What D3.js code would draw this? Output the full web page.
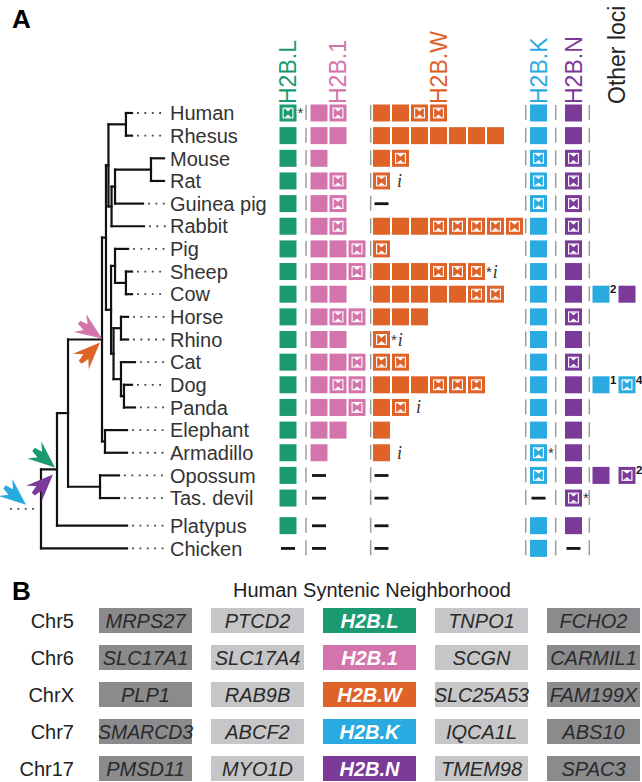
<!DOCTYPE html>
<html><head><meta charset="utf-8">
<script src="https://cdn.jsdelivr.net/npm/d3@7"></script>
<style>
body{margin:0;background:#fff}
svg{display:block;font-family:"Liberation Sans",Arial,Helvetica,sans-serif}
</style>
</head><body>
<svg id="c" width="642" height="782"></svg>
<script>
// ---------------- DATA ----------------
const species = ["Human","Rhesus","Mouse","Rat","Guinea pig","Rabbit","Pig","Sheep","Cow","Horse","Rhino","Cat","Dog","Panda","Elephant","Armadillo","Opossum","Tas. devil","Platypus","Chicken"];
const gapBefore = ["Platypus"];
// F = gene, P = pseudogene, - = absent
const families = ["H2B.L","H2B.1","H2B.W","H2B.K","H2B.N"];
const h2bL = ["P","F","F","F","F","F","F","F","F","F","F","F","F","F","F","F","F","F","F","-"];
const h2b1 = ["FP","FF","F","FP","FP","FP","FFP","FFP","FF","FPP","FF","FFP","FPP","FFP","FF","F","-","-","-","-"];
const h2bW = ["FFPP","FFFFFFF","FP","P","-","FFFPPPPP","P","FFFPPP","FFFFFPP","FFF","P","PP","FFFPPP","FP","F","F","-","-","-","-"];
const h2bK = ["F","F","P","P","P","F","F","F","F","F","F","F","F","F","F","P","P","-","F","F"];
const h2bN = ["F","F","P","P","P","P","P","F","F","P","F","P","F","F","F","F","F","P","F","-"];
const otherLoci = [
  {species:"Cow", items:[{family:"H2B.K", type:"F", sup:"2"},{family:"H2B.N", type:"F", sup:""}]},
  {species:"Dog", items:[{family:"H2B.K", type:"F", sup:"1"},{family:"H2B.K", type:"P", sup:"4"}]},
  {species:"Opossum", items:[{family:"H2B.N", type:"F", sup:""},{family:"H2B.N", type:"P", sup:"2"}]}
];
const notes = [
  {species:"Human", family:"H2B.L", text:"*"},
  {species:"Rat", family:"H2B.W", text:"i"},
  {species:"Sheep", family:"H2B.W", text:"*i"},
  {species:"Rhino", family:"H2B.W", text:"*i"},
  {species:"Panda", family:"H2B.W", text:"i"},
  {species:"Armadillo", family:"H2B.W", text:"i"},
  {species:"Armadillo", family:"H2B.K", text:"*"},
  {species:"Tas. devil", family:"H2B.N", text:"*"}
];
// tree: node, parent, depth (relative divergence units)
const treeNode   = ["Amniota","Mammalia","Chicken","Theria","Platypus","Placentalia","Marsupialia","Opossum","Tas. devil","Boreoeutheria","Atlantogenata","Elephant","Armadillo","Euarchontoglires","Laurasiatheria","Primates","Human","Rhesus","Glires","Rodentia","Muridae","Mouse","Rat","Guinea pig","Rabbit","Cetartiodactyla","Pig","Ruminantia","Sheep","Cow","Zooamata","Perissodactyla","Horse","Rhino","Carnivora","Cat","Caniformia","Dog","Panda"];
const treeParent = [null,"Amniota","Amniota","Mammalia","Mammalia","Theria","Theria","Marsupialia","Marsupialia","Placentalia","Placentalia","Atlantogenata","Atlantogenata","Boreoeutheria","Boreoeutheria","Euarchontoglires","Primates","Primates","Euarchontoglires","Glires","Rodentia","Muridae","Muridae","Rodentia","Glires","Laurasiatheria","Cetartiodactyla","Cetartiodactyla","Ruminantia","Ruminantia","Laurasiatheria","Zooamata","Perissodactyla","Perissodactyla","Zooamata","Carnivora","Carnivora","Caniformia","Caniformia"];
const treeDepth  = [0,12.9,69.4,21.8,69.4,49.2,47.6,62.9,62.9,52.4,51.6,69.4,69.4,54.4,56.5,68.5,73.4,73.4,56.9,59.7,88.7,99.2,99.2,82.3,83.1,59.7,70.2,68.5,73.4,73.4,58.5,64.5,70.2,70.2,64.5,75.8,66.9,73.4,75.8];
const arrowMarks = [
  {node:"Placentalia", family:"H2B.1"},
  {node:"Placentalia", family:"H2B.W"},
  {node:"Mammalia", family:"H2B.L"},
  {node:"Mammalia", family:"H2B.N"},
  {node:"Amniota", family:"H2B.K"}
];
// panel B
const chroms = ["Chr5","Chr6","ChrX","Chr7","Chr17"];
const leftFar = ["MRPS27","SLC17A1","PLP1","SMARCD3","PMSD11"];
const leftNear = ["PTCD2","SLC17A4","RAB9B","ABCF2","MYO1D"];
const variants = ["H2B.L","H2B.1","H2B.W","H2B.K","H2B.N"];
const rightNear = ["TNPO1","SCGN","SLC25A53","IQCA1L","TMEM98"];
const rightFar = ["FCHO2","CARMIL1","FAM199X","ABS10","SPAC3"];

// ---------------- STYLE / LAYOUT ----------------
const colors = {"H2B.L":"#1b9a72","H2B.1":"#d474ad","H2B.W":"#df6228","H2B.K":"#29abe2","H2B.N":"#7b3a97"};
const svg = d3.select("#c");
const sq = 17, step = 19;

const slot = species.map((s,i)=> i + (species.indexOf(gapBefore[0])<=i ? 0.22 : 0));
const yRow = d3.scaleLinear().domain([0,1]).range([113,135.65]);
const yOf = s => yRow(slot[species.indexOf(s)]);

const famStart = d3.scaleOrdinal().domain([...families,"Other"]).range([279.5,310.5,373,530,565,592.5]);
const famData = {"H2B.L":h2bL,"H2B.1":h2b1,"H2B.W":h2bW,"H2B.K":h2bK,"H2B.N":h2bN};

// panel labels
svg.append("text").attr("x",12).attr("y",28).attr("font-size",26).attr("font-weight","bold").text("A");
svg.append("text").attr("x",12).attr("y",600).attr("font-size",26).attr("font-weight","bold").text("B");

// headers
const headerPos = {"H2B.L":0,"H2B.1":1,"H2B.W":3,"H2B.K":0,"H2B.N":0};
families.forEach(f=>{
  const cx = famStart(f) + headerPos[f]*step + sq/2;
  svg.append("text").attr("transform",`translate(${cx},104) rotate(-90)`)
    .attr("dy","0.36em").attr("font-size",23).attr("fill",colors[f]).text(f);
});
svg.append("text").attr("transform",`translate(${famStart("Other")+24.5},104) rotate(-90)`)
  .attr("dy","0.36em").attr("font-size",23).attr("fill","#222").text("Other loci");

// separators
const sepX = [306,370.7,525.7,555.7,589.3];
const gSep = svg.append("g").attr("stroke","#9c9c9c").attr("stroke-width",1.5);
species.forEach(s=>{
  const y = yOf(s);
  sepX.forEach(x=>gSep.append("line").attr("x1",x).attr("x2",x).attr("y1",y-8).attr("y2",y+7));
});

// square drawing
function drawCell(g, x, y, type, color){
  if(type==="-"){
    g.append("rect").attr("x",x+1.5).attr("y",y-1.3).attr("width",14).attr("height",2.8).attr("fill","#151515");
    return;
  }
  g.append("rect").attr("x",x).attr("y",y-sq/2).attr("width",sq).attr("height",sq).attr("fill",color);
  if(type==="P"){
    const i = 3.6, L = x+i, R = x+sq-i, T = y-sq/2+i, B = y+sq/2-i, cx = x+sq/2;
    g.append("rect").attr("x",L).attr("y",T).attr("width",R-L).attr("height",B-T)
      .attr("fill","none").attr("stroke","#fff").attr("stroke-width",1.1);
    g.append("path").attr("d",`M${L+1.6},${T+0.5} L${R-1.6},${T+0.5} L${cx},${y-1.6} Z M${L+1.6},${B-0.5} L${R-1.6},${B-0.5} L${cx},${y+1.6} Z`).attr("fill","#fff");
  }
}
const gCells = svg.append("g");
families.forEach(f=>{
  famData[f].forEach((str,i)=>{
    const y = yOf(species[i]);
    str.split("").forEach((c,k)=> drawCell(gCells, famStart(f)+k*step, y, c, colors[f]));
  });
});
// other loci
otherLoci.forEach(o=>{
  const y = yOf(o.species);
  o.items.forEach((it,k)=>{
    const x = famStart("Other") + k*26;
    drawCell(gCells, x, y, it.type, colors[it.family]);
    if(it.sup) gCells.append("text").attr("x",x+sq+0.5).attr("y",y-1).attr("font-size",11.5).attr("font-weight","bold").attr("fill","#111").text(it.sup);
  });
});
// notes
notes.forEach(n=>{
  const y = yOf(n.species);
  const len = famData[n.family][species.indexOf(n.species)].length;
  const end = famStart(n.family) + (len-1)*step + sq;
  const t = gCells.append("text").attr("y",y+5).attr("fill","#333");
  if(n.text.includes("*")){
    t.attr("x",end+1);
    t.append("tspan").attr("font-size",15).text("*");
    if(n.text.includes("i")) t.append("tspan").attr("dx",1).attr("dy",1).attr("font-family","'Liberation Serif','DejaVu Serif',serif").attr("font-style","italic").attr("font-size",18).text("i");
  } else {
    t.attr("x",end+7).attr("dy",1).attr("font-family","'Liberation Serif','DejaVu Serif',serif").attr("font-style","italic").attr("font-size",18).text("i");
  }
});

// species labels
svg.append("g").selectAll("text").data(species).join("text")
  .attr("x",170).attr("y",d=>yOf(d)).attr("dy","0.36em").attr("font-size",20).attr("fill","#333").text(d=>d);

// ---------------- TREE ----------------
const xTree = d3.scaleLinear().domain([0,100]).range([41,165]);
const root = d3.stratify().id(d=>d.name).parentId(d=>d.parent)(treeNode.map((n,i)=>({name:n,parent:treeParent[i],depth:treeDepth[i]})));
root.eachAfter(n=>{
  n.px = xTree(n.data.depth);
  if(!n.children) n.py = yOf(n.data.name);
  else n.py = (d3.min(n.children,c=>c.py)+d3.max(n.children,c=>c.py))/2;
});
const gTree = svg.append("g").attr("stroke","#111").attr("stroke-width",2.2).attr("stroke-linecap","square").attr("fill","none");
root.each(n=>{
  if(n.parent) gTree.append("line").attr("x1",n.parent.px).attr("x2",n.px).attr("y1",n.py).attr("y2",n.py);
  if(n.children) gTree.append("line").attr("x1",n.px).attr("x2",n.px)
      .attr("y1",d3.min(n.children,c=>c.py)).attr("y2",d3.max(n.children,c=>c.py));
});
const gDots = svg.append("g").attr("stroke","#444").attr("stroke-width",1.8).attr("stroke-dasharray","1.8,5.6");
root.leaves().forEach(l=>{
  const x1 = l.px+5, x2 = 166;
  if(x2-x1>3) gDots.append("line").attr("x1",x1).attr("x2",x2).attr("y1",l.py).attr("y2",l.py);
});
gDots.append("line").attr("x1",10).attr("x2",root.px-4).attr("y1",root.py).attr("y2",root.py);

// arrows
const arrowPath = "M0,0 L-27,-11 L-20,-3.5 L-28,-2 L-28,2 L-20,3.5 L-27,11 Z";
const arrowStyle = {"H2B.1":{dx:0,dy:-1,a:35},"H2B.W":{dx:-2,dy:3,a:-45},"H2B.L":{dx:-2,dy:-2,a:40},"H2B.N":{dx:-4,dy:5,a:-45},"H2B.K":{dx:-15,dy:-4,a:40}};
const nodeById = new Map(root.descendants().map(n=>[n.id,n]));
arrowMarks.forEach(a=>{
  const n = nodeById.get(a.node), s = arrowStyle[a.family];
  svg.append("path").attr("d",arrowPath).attr("fill",colors[a.family])
    .attr("transform",`translate(${n.px+s.dx},${n.py+s.dy}) rotate(${s.a})`);
});

// ---------------- PANEL B ----------------
svg.append("text").attr("x",372).attr("y",597).attr("text-anchor","middle").attr("font-size",20).attr("fill","#222").text("Human Syntenic Neighborhood");
const colX = d3.scaleLinear().domain([0,1]).range([99,211]);
const rowY = d3.scaleLinear().domain([0,1]).range([608,645]);
const bw = 93, bh = 25;
const cols = [leftFar,leftNear,variants,rightNear,rightFar];
const fills = ["#8b8b8d","#c6c6c8",null,"#c6c6c8","#8b8b8d"];
chroms.forEach((c,i)=>{
  svg.append("text").attr("x",74).attr("y",rowY(i)+bh/2).attr("dy","0.36em").attr("text-anchor","end").attr("font-size",20).attr("fill","#222").text(c);
  cols.forEach((col,j)=>{
    const isVar = j===2;
    svg.append("rect").attr("x",colX(j)).attr("y",rowY(i)).attr("width",bw).attr("height",bh)
      .attr("fill",isVar?colors[col[i]]:fills[j]);
    const t = svg.append("text").attr("x",colX(j)+bw/2).attr("y",rowY(i)+bh/2).attr("dy","0.36em")
      .attr("text-anchor","middle").attr("font-size",20).attr("font-style","italic")
      .attr("fill",isVar?"#fff":"#2a2a2a").attr("font-weight",isVar?"bold":"normal").text(col[i]);
    const w = t.node().getComputedTextLength();
    if(w>bw+2) t.attr("textLength",bw+2).attr("lengthAdjust","spacingAndGlyphs");
  });
});
</script>
</body></html>
